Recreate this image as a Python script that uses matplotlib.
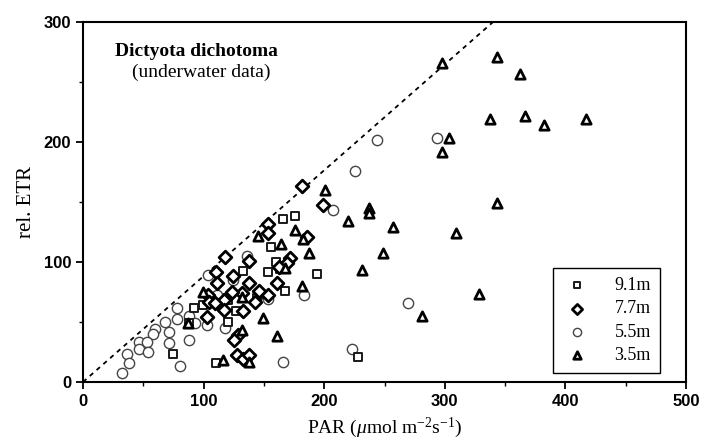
import matplotlib
matplotlib.use("Agg")
import matplotlib.pyplot as plt
from matplotlib.ticker import MultipleLocator

plt.rcParams["mathtext.fontset"] = "custom"
plt.rcParams["mathtext.rm"] = "Liberation Serif"
plt.rcParams["mathtext.it"] = "Liberation Serif:italic"
plt.rcParams["axes.unicode_minus"] = False

# ---- data ----
par_91 = [175.8, 165.6, 155.6, 132.4, 193.8, 160.0, 153.7, 163.3, 167.5, 145.4,
          120.5, 126.9, 120.5, 110.3, 227.8, 92.3, 74.4, 144.0, 120.0, 99.8, 88.1]
etr_91 = [138.6, 135.6, 112.8, 92.5, 90.0, 100.3, 91.9, 93.9, 76.1, 72.3,
          69.8, 59.2, 50.3, 15.6, 21.1, 61.4, 23.1, 69.8, 68.3, 64.2, 49.4]

par_77 = [181.3, 199.3, 153.6, 153.6, 185.5, 117.7, 137.9, 110.3, 124.1, 111.4,
          171.6, 168.9, 162.8, 161.1, 137.9, 146.2, 153.6, 142.6, 131.6, 123.8,
          116.9, 116.9, 132.4, 102.6, 128.5, 125.5, 127.4, 132.9, 137.9, 103.9,
          104.7, 109.5]
etr_77 = [163.3, 147.5, 131.7, 124.4, 120.6, 103.9, 101.1, 91.9, 88.6, 82.3,
          103.1, 98.9, 95.6, 82.8, 82.8, 75.6, 72.3, 66.9, 74.4, 75.3,
          68.3, 60.0, 59.2, 54.4, 39.2, 35.0, 22.5, 18.9, 22.5, 72.5,
          66.9, 66.1]

par_55 = [243.5, 225.5, 207.5, 293.3, 269.7, 135.7, 103.9, 124.1, 183.5, 153.6,
          102.6, 117.7, 166.1, 223.3, 111.5, 77.7, 77.7, 88.3, 92.7, 68.0,
          60.1, 58.0, 71.1, 71.7, 88.1, 46.7, 52.8, 46.7, 54.1, 36.2,
          38.1, 32.1, 80.8]
etr_55 = [201.7, 176.1, 143.3, 203.6, 66.1, 105.0, 88.8, 85.0, 72.3, 68.9,
          47.5, 44.8, 16.4, 27.3, 72.1, 61.4, 52.5, 55.4, 48.8, 49.8,
          44.2, 40.4, 41.3, 32.9, 35.0, 33.1, 33.1, 27.3, 24.6, 23.3,
          16.1, 7.8, 13.3]

par_35 = [297.4, 343.0, 362.4, 337.5, 366.5, 382.5, 417.1, 303.5, 297.4, 343.0,
          256.8, 309.3, 249.0, 328.6, 281.3, 200.7, 237.4, 237.4, 219.5, 231.6,
          145.4, 175.8, 163.9, 187.6, 182.4, 167.5, 181.3, 131.6, 149.5, 161.1,
          131.6, 137.9, 115.8, 99.3, 87.3]
etr_35 = [265.6, 270.6, 256.4, 218.9, 221.7, 214.2, 218.9, 203.6, 191.9, 148.9,
          129.4, 123.9, 107.8, 73.3, 55.3, 160.0, 144.7, 140.6, 134.4, 93.3,
          121.7, 126.7, 115.0, 107.8, 119.2, 94.7, 80.0, 71.1, 53.1, 38.3,
          43.3, 16.9, 18.3, 75.3, 48.9]

line_par = [0, 340]
line_etr = [0, 300]

labels = ["9.1m", "7.7m", "5.5m", "3.5m"]
x_ticks = [0, 100, 200, 300, 400, 500]
y_ticks = [0, 100, 200, 300]

# ---- figure ----
fig = plt.figure(figsize=(7.03, 4.42), dpi=100)
ax = fig.add_axes([83/703, 1-382/442, (686-83)/703, (382-22)/442])

serif = ["Liberation Serif", "DejaVu Serif"]

ax.plot(line_par, line_etr, color="black", lw=1.3, ls=(0, (2.5, 2.5)), zorder=1)

ax.scatter(par_91, etr_91, marker="s", s=30, facecolors="white",
           edgecolors="#1a1a1a", linewidths=1.4, label=labels[0], zorder=3)
ax.scatter(par_77, etr_77, marker="D", s=42, facecolors="white",
           edgecolors="black", linewidths=2.0, label=labels[1], zorder=3)
ax.scatter(par_55, etr_55, marker="o", s=55, facecolors="white",
           edgecolors="#444444", linewidths=1.0, label=labels[2], zorder=2)
ax.scatter(par_35, etr_35, marker="^", s=45, facecolors="white",
           edgecolors="black", linewidths=2.0, label=labels[3], zorder=3)

ax.set_xlim(0, 500)
ax.set_ylim(0, 300)
ax.set_xticks(x_ticks)
ax.set_yticks(y_ticks)
ax.xaxis.set_minor_locator(MultipleLocator(50))
ax.yaxis.set_minor_locator(MultipleLocator(50))
ax.tick_params(which="major", direction="out", length=5, width=1.3)
ax.tick_params(which="minor", direction="out", length=3, width=1.0)
for lab in ax.get_xticklabels() + ax.get_yticklabels():
    lab.set_fontfamily("Liberation Sans")
    lab.set_fontweight("bold")
    lab.set_fontsize(12)
for sp in ax.spines.values():
    sp.set_linewidth(1.5)

ax.set_xlabel("PAR ($\\mu$mol m$^{-2}$s$^{-1}$)", family=serif, fontsize=14, labelpad=5)
ax.set_ylabel("rel. ETR", family=serif, fontsize=15, labelpad=4)
ax.yaxis.set_label_coords(-0.078, 0.5)

ax.text(0.053, 0.917, "Dictyota dichotoma", transform=ax.transAxes,
        family=serif, fontweight="bold", fontsize=14, va="center", ha="left")
ax.text(0.081, 0.861, "(underwater data)", transform=ax.transAxes,
        family=serif, fontsize=14, va="center", ha="left")

leg = ax.legend(loc="lower right", bbox_to_anchor=(0.957, 0.025), frameon=True,
                fancybox=False, edgecolor="black", framealpha=1,
                prop={"family": serif, "size": 13}, handletextpad=1.3,
                borderpad=0.5, labelspacing=0.35, markerscale=0.8,
                handlelength=1.6, borderaxespad=0)
leg.get_frame().set_linewidth(1.0)

fig.savefig("out.png", dpi=100)
